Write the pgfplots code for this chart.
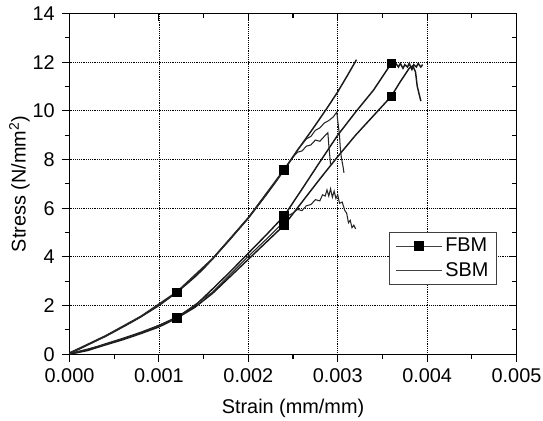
\documentclass[border=0pt]{standalone}
\usepackage{fontspec}
\setmainfont{Liberation Sans}
\usepackage{pgfplots}
\pgfplotsset{compat=1.18}
\begin{document}
\fontsize{15}{18}\selectfont
\begin{tikzpicture}
\useasboundingbox (-52.5pt,-49.8pt) rectangle (357.5pt,267.45pt);
\pgfplotsset{
  common/.style={
    width=337.5pt, height=257.25pt, scale only axis,
    xmin=0, xmax=0.005, ymin=0, ymax=14,
    xtick={0,0.001,0.002,0.003,0.004,0.005},
    ytick={0,2,4,6,8,10,12,14},
    minor x tick num=1, minor y tick num=1,
    axis line style={line width=0.9pt},
    every tick/.style={black, line width=0.8pt},
  },
  curve/.style={black!90, line width=1.1pt},
  thin curve/.style={black!85, line width=0.8pt},
}
\begin{axis}[common,
  xtick pos=right, ytick pos=right, tick align=inside,
  major tick length=5.5pt, minor tick length=3.6pt,
  xticklabels={}, yticklabels={},
]
\end{axis}
\begin{axis}[common,
  xtick pos=left, ytick pos=left, tick align=outside,
  major tick length=6pt, minor tick length=3.6pt,
  grid=major, grid style={densely dotted, black, line width=0.6pt},
  scaled x ticks=false,
  xticklabels={0.000,0.001,0.002,0.003,0.004,0.005},
  /pgf/number format/assume math mode=true,
  xlabel={Strain (mm/mm)},
  ylabel={Stress (N/mm\textsuperscript{2})},
  xlabel style={at={(axis description cs:0.5,-0.158)}, anchor=center},
  ylabel style={at={(axis description cs:-0.112,0.5)}, anchor=center},
  legend style={at={(0.956,0.203)}, anchor=south east, draw=black!75,
    line width=0.8pt, inner xsep=4pt, inner ysep=2pt, row sep=2pt,
    cells={anchor=west}},
  legend image code/.code={\draw[mark repeat=2, mark phase=2, #1] plot coordinates {(0pt,0pt) (17.5pt,0pt) (35pt,0pt)};},
]
\addlegendimage{black!75, line width=0.8pt, mark=square*, mark size=3.3pt, mark options={black}}
\addlegendentry{FBM}
\addlegendimage{black!75, line width=0.8pt}
\addlegendentry{SBM}

% FBM 1 (upper path)
\addplot[curve, forget plot] coordinates {
(0,0.05) (0.0001,0.2) (0.0002,0.38) (0.0003,0.56) (0.0004,0.74) (0.0005,0.93)
(0.0006,1.13) (0.0007,1.33) (0.0008,1.55) (0.0009,1.77) (0.0010,2.0) (0.0011,2.27)
(0.0012,2.55) (0.0013,2.85) (0.0014,3.17) (0.0015,3.52) (0.0016,3.92) (0.0017,4.33)
(0.0018,4.74) (0.0019,5.17) (0.0020,5.6) (0.0021,6.07) (0.0022,6.55) (0.0023,7.05)
(0.0024,7.58) (0.0025,8.12) (0.0026,8.64) (0.0027,9.15) (0.0028,9.68) (0.0029,10.22)
(0.0030,10.78) (0.0031,11.4) (0.00321,12.1)
};
% FBM 2
\addplot[curve, forget plot] coordinates {
(0,0.02) (0.0002,0.18) (0.0004,0.42) (0.0006,0.65) (0.0008,0.9) (0.0010,1.18)
(0.0012,1.52) (0.0014,1.98) (0.0016,2.68) (0.0018,3.4) (0.0020,4.15) (0.0022,4.9)
(0.0024,5.68) (0.0026,6.78) (0.0028,7.9) (0.0030,9.0) (0.0032,9.95) (0.0034,10.85)
(0.0036,11.95) (0.00362,11.85) (0.00365,11.95) (0.00368,11.8) (0.0037,11.95)
(0.00373,11.75) (0.00375,11.9) (0.00378,11.8) (0.0038,11.95) (0.00383,11.7)
(0.00385,11.9) (0.00388,11.8) (0.0039,11.95) (0.00393,11.8) (0.00395,11.9)
};
% FBM 3
\addplot[curve, forget plot] coordinates {
(0,0.0) (0.0002,0.15) (0.0004,0.38) (0.0006,0.6) (0.0008,0.85) (0.0010,1.12)
(0.0012,1.48) (0.0014,1.92) (0.0016,2.5) (0.0018,3.2) (0.0020,3.9) (0.0022,4.6)
(0.0024,5.3) (0.0026,6.25) (0.0028,7.2) (0.0030,8.12) (0.0032,9.0) (0.0034,9.8)
(0.0036,10.6) (0.0037,11.2) (0.0038,11.75) (0.00384,11.85) (0.00387,11.6)
(0.00389,11.0) (0.00391,10.7) (0.00393,10.4)
};
% FBM markers
\addplot[only marks, mark=square*, mark size=3.3pt, black, forget plot] coordinates {
(0.0012,2.55) (0.0012,1.52) (0.0012,1.48)
(0.0024,7.58) (0.0024,5.68) (0.0024,5.3)
(0.0036,11.95) (0.0036,10.6)
};
% SBM low
\addplot[thin curve, forget plot] coordinates {
(0,0.02) (0.0004,0.4) (0.0008,0.87) (0.0012,1.5) (0.0016,2.55) (0.0020,4.02)
(0.0022,4.72) (0.0024,5.45) (0.00245,5.7) (0.0025,5.8) (0.00255,5.95) (0.0026,5.9)
(0.00265,6.1) (0.0027,6.15) (0.00275,6.35) (0.0028,6.3) (0.00283,6.55) (0.00286,6.5)
(0.00288,6.75) (0.0029,6.5) (0.00292,6.8) (0.00294,6.45) (0.00296,6.7) (0.00298,6.4)
(0.0030,6.55) (0.00302,6.2) (0.00305,6.25) (0.00308,5.9) (0.0031,5.8) (0.00312,5.4)
(0.00314,5.5) (0.00316,5.2) (0.00318,5.3) (0.0032,5.15)
};
% SBM A
\addplot[thin curve, forget plot] coordinates {
(0,0.03) (0.0004,0.72) (0.0008,1.53) (0.0012,2.53) (0.0016,3.9) (0.0020,5.58)
(0.0024,7.55) (0.0025,8.1) (0.00255,8.4) (0.0026,8.62) (0.00265,8.85) (0.0027,8.95)
(0.00275,9.2) (0.0028,9.3) (0.00285,9.5) (0.0029,9.6) (0.00295,9.75) (0.00299,9.95)
(0.0030,9.6) (0.00302,9.0) (0.00303,8.4) (0.00304,8.1) (0.00306,7.7) (0.00307,7.45)
};
% SBM B
\addplot[thin curve, forget plot] coordinates {
(0,0.06) (0.0004,0.76) (0.0008,1.57) (0.0012,2.57) (0.0016,3.94) (0.0020,5.62)
(0.0024,7.6) (0.0025,8.1) (0.00255,8.3) (0.0026,8.35) (0.00265,8.55) (0.0027,8.6)
(0.00275,8.8) (0.0028,8.75) (0.00285,8.95) (0.00289,9.1) (0.0029,8.6) (0.00291,8.2)
(0.00292,7.8)
};
\end{axis}
\end{tikzpicture}
\end{document}
